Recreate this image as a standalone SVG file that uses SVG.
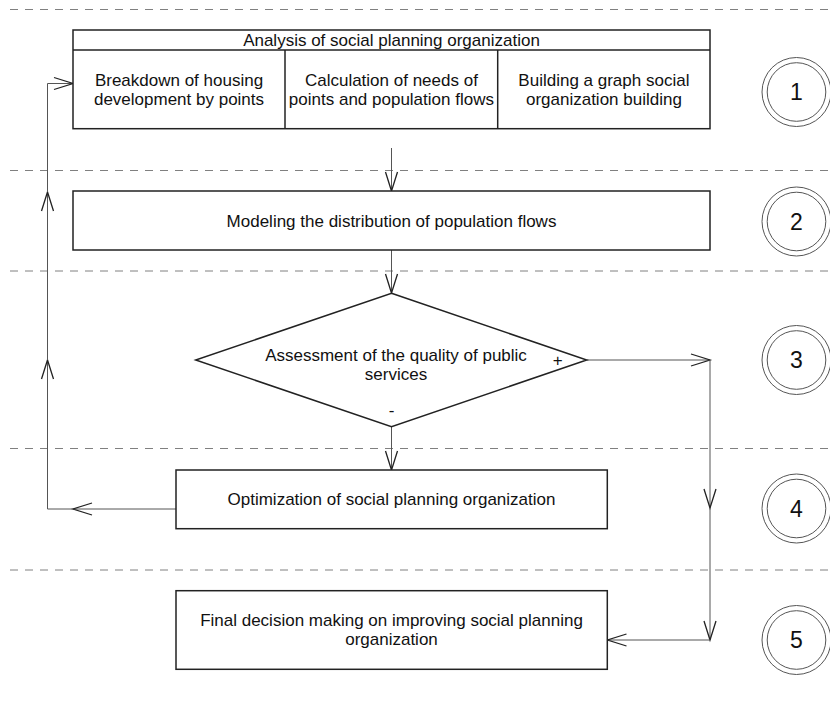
<svg xmlns="http://www.w3.org/2000/svg" width="830" height="704" viewBox="0 0 830 704">
<defs>
<style>
text{font-family:"Liberation Sans",Arial,sans-serif;font-size:17px;fill:#111;text-anchor:middle}
.box{fill:#fff;stroke:#222;stroke-width:1.5}
.dash{stroke:#808080;stroke-width:1;stroke-dasharray:8 7;fill:none}
.con{stroke:#555;stroke-width:1;fill:none}
.ring{fill:none;stroke:#555;stroke-width:1}
.num{font-size:23px}
</style>
<marker id="ah" viewBox="-21 -7 22 14" refX="0" refY="0" markerWidth="22" markerHeight="14" markerUnits="userSpaceOnUse" orient="auto" overflow="visible">
<path d="M-19,-6 L0,0 L-19,6" fill="none" stroke="#222" stroke-width="1.3"/>
</marker>
</defs>
<rect width="830" height="704" fill="#fff"/>
<g id="lanes">
<line class="dash" x1="10" y1="9.5" x2="830" y2="9.5"/>
<line class="dash" x1="10" y1="170.5" x2="830" y2="170.5"/>
<line class="dash" x1="10" y1="271" x2="830" y2="271"/>
<line class="dash" x1="10" y1="448.5" x2="830" y2="448.5"/>
<line class="dash" x1="10" y1="570" x2="830" y2="570"/>
</g>
<g id="connectors">
<path class="con" d="M391.5,148 V191" marker-end="url(#ah)"/>
<path class="con" d="M391.5,250 V293" marker-end="url(#ah)"/>
<path class="con" d="M391.5,427 V470" marker-end="url(#ah)"/>
<path class="con" d="M587,360 H710" marker-end="url(#ah)"/>
<path class="con" d="M710,360 V508" marker-end="url(#ah)"/>
<path class="con" d="M710,508 V640" marker-end="url(#ah)"/>
<path class="con" d="M710,640 H607.5" marker-end="url(#ah)"/>
<path class="con" d="M176,509 H73" marker-end="url(#ah)"/>
<path class="con" d="M73,509 H47.5 V360" marker-end="url(#ah)"/>
<path class="con" d="M47.5,360 V192" marker-end="url(#ah)"/>
<path class="con" d="M47.5,192 V83.5 H73" marker-end="url(#ah)"/>
</g>
<g id="node-analysis">
<rect class="box" x="73" y="30" width="637" height="98.7"/>
<line x1="73" y1="50" x2="710" y2="50" stroke="#222" stroke-width="1.5"/>
<line x1="285" y1="50" x2="285" y2="128.7" stroke="#222" stroke-width="1.5"/>
<line x1="497.7" y1="50" x2="497.7" y2="128.7" stroke="#222" stroke-width="1.5"/>
<text x="391.5" y="46">Analysis of social planning organization</text>
<text x="179" y="86">Breakdown of housing</text>
<text x="179" y="104.5">development by points</text>
<text x="391.4" y="86">Calculation of needs of</text>
<text x="391.4" y="104.5">points and population flows</text>
<text x="603.9" y="86">Building a graph social</text>
<text x="603.9" y="104.5">organization building</text>
</g>
<g id="node-modeling">
<rect class="box" x="73" y="191" width="637" height="59"/>
<text x="391.5" y="226.5">Modeling the distribution of population flows</text>
</g>
<g id="node-assessment">
<polygon class="box" points="391.5,293.3 586.7,360 391.5,426.7 195.7,360"/>
<text x="396" y="361">Assessment of the quality of public</text>
<text x="396" y="379.5">services</text>
<text x="557.7" y="366">+</text>
<text x="391.5" y="416">-</text>
</g>
<g id="node-optimization">
<rect class="box" x="176" y="470" width="431.3" height="58.7"/>
<text x="391.5" y="504.5">Optimization of social planning organization</text>
</g>
<g id="node-final">
<rect class="box" x="176" y="590.7" width="431.3" height="78.6"/>
<text x="391.5" y="626">Final decision making on improving social planning</text>
<text x="391.5" y="645">organization</text>
</g>
<g id="step-1">
<circle class="ring" cx="796.5" cy="92" r="34.5"/><circle class="ring" cx="796.5" cy="92" r="29.3"/>
<text class="num" x="796.5" y="100">1</text>
</g>
<g id="step-2">
<circle class="ring" cx="796.5" cy="221.5" r="34.5"/><circle class="ring" cx="796.5" cy="221.5" r="29.3"/>
<text class="num" x="796.5" y="229.5">2</text>
</g>
<g id="step-3">
<circle class="ring" cx="796.5" cy="360" r="34.5"/><circle class="ring" cx="796.5" cy="360" r="29.3"/>
<text class="num" x="796.5" y="368">3</text>
</g>
<g id="step-4">
<circle class="ring" cx="796.5" cy="508.5" r="34.5"/><circle class="ring" cx="796.5" cy="508.5" r="29.3"/>
<text class="num" x="796.5" y="516.5">4</text>
</g>
<g id="step-5">
<circle class="ring" cx="796.5" cy="640" r="34.5"/><circle class="ring" cx="796.5" cy="640" r="29.3"/>
<text class="num" x="796.5" y="648">5</text>
</g>
</svg>
